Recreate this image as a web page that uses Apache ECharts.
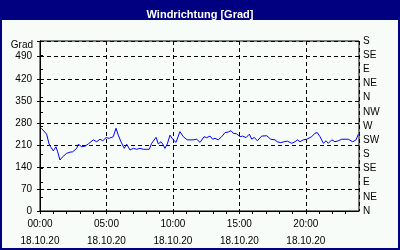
<!DOCTYPE html>
<html>
<head>
<meta charset="utf-8">
<script src="https://cdn.jsdelivr.net/npm/echarts@6/dist/echarts.min.js"></script>
<style>html,body{margin:0;padding:0;background:#f8fcf8;}#c{width:400px;height:250px;}</style>
</head>
<body>
<div id="c"></div>
<script>
// hours since 00:00 on 18.10.20
var times = [0.1,0.25,0.5,0.68,0.8,1.0,1.2,1.33,1.5,1.7,2.0,2.26,2.46,2.76,2.88,3.14,3.39,3.63,3.76,4.01,4.27,4.51,4.72,4.97,5.21,5.51,5.72,5.89,6.09,6.34,6.52,6.77,7.02,7.27,7.52,7.77,8.22,8.4,8.73,8.9,9.1,9.23,9.4,9.58,9.78,9.98,10.23,10.53,10.78,11.08,11.53,11.79,12.04,12.34,12.54,12.79,12.99,13.17,13.41,13.67,13.92,14.17,14.37,14.54,14.8,15.05,15.25,15.5,15.75,15.93,16.12,16.35,16.68,17.06,17.36,17.68,17.85,18.11,18.36,18.61,18.94,19.19,19.36,19.56,19.81,20.07,20.44,20.69,20.86,21.07,21.32,21.52,21.69,21.95,22.19,22.44,22.7,23.19,23.53,23.78,23.95];
var values = [263,259,244,213,204,191,204,188,162,172,183,187,188,199,212,204,206,213,210,226,220,228,223,233,231,236,263,241,220,199,212,194,199,196,199,196,196,215,234,213,220,213,199,213,241,228,218,252,236,226,226,228,218,236,233,238,228,231,226,236,249,251,255,247,245,236,238,233,244,228,234,223,238,239,228,226,220,217,220,222,215,220,226,220,226,228,236,247,249,236,215,223,215,226,220,223,228,228,220,226,244];
var hourLabels = ['00:00','05:00','10:00','15:00','20:00'];
var dateLabel = '18.10.20';
var dirLabels = ['N','NE','E','SE','S','SW','W','NW','N','NE','E','SE','S'];

var data = times.map(function(t,i){return [t, values[i]];});
var font = 'Liberation Sans';
var chart = echarts.init(document.getElementById('c'), null, {renderer:'canvas'});
chart.setOption({
  backgroundColor: '#f8fcf8',
  animation: false,
  title: {
    text: 'Windrichtung [Grad]', left: 'center', top: 4,
    textStyle: {color:'#ffffff', fontFamily: font, fontWeight:'bold', fontSize: 11}
  },
  graphic: [
    {type:'rect', z:-100, shape:{x:0,y:0,width:400,height:20}, style:{fill:'#000080'}, silent:true},
    {type:'rect', z:-100, shape:{x:1,y:1,width:398,height:248}, style:{fill:null, stroke:'#000080', lineWidth:2}, silent:true},
    {type:'text', x: 33, y: 45, style:{text:'Grad', fill:'#000', font:'10px "Liberation Sans"', align:'right', verticalAlign:'middle'}}
  ],
  grid: {left:40, right:41, top:41, bottom:39, show:true, borderColor:'#000', borderWidth:1, backgroundColor:'transparent'},
  xAxis: [
    {
      type:'value', min:0, max:24, interval:1,
      axisLine:{show:true, lineStyle:{color:'#000', width:1}},
      axisTick:{show:true, length:3, lineStyle:{color:'#000'}},
      splitLine:{show:false},
      axisLabel:{
        color:'#000', fontFamily:font, fontSize:10, lineHeight:17, margin:5, showMaxLabel:false,
        formatter:function(v){ if (v % 5 === 0 && v < 24) return hourLabels[v/5] + '\n' + dateLabel; return ''; }
      }
    },
    {
      type:'value', min:0, max:24, interval:5, position:'bottom',
      axisLine:{show:false}, axisTick:{show:false}, axisLabel:{show:false},
      splitLine:{show:true, lineStyle:{color:'#000', type:[4,3], width:1}}
    }
  ],
  yAxis: [
    {
      type:'value', min:0, max:540, interval:70,
      axisLine:{show:true, lineStyle:{color:'#000'}},
      axisTick:{show:true, length:3, lineStyle:{color:'#000'}},
      splitLine:{show:true, lineStyle:{color:'#000', type:[4,3], width:1}},
      axisLabel:{color:'#000', fontFamily:font, fontSize:10, margin:8,
        formatter:function(v){ return v >= 540 ? '' : String(v); }}
    },
    {
      type:'value', min:0, max:540, interval:45, position:'right',
      axisLine:{show:true, lineStyle:{color:'#000'}},
      axisTick:{show:true, length:3, lineStyle:{color:'#000'}},
      splitLine:{show:false},
      axisLabel:{color:'#000', fontFamily:font, fontSize:10, margin:4,
        formatter:function(v){ return dirLabels[Math.round(v/45)]; }}
    }
  ],
  series: [{
    type:'line', data:data, xAxisIndex:0, yAxisIndex:0,
    showSymbol:false, symbol:'none',
    lineStyle:{color:'#0000ff', width:1}
  }]
});
</script>
</body>
</html>
